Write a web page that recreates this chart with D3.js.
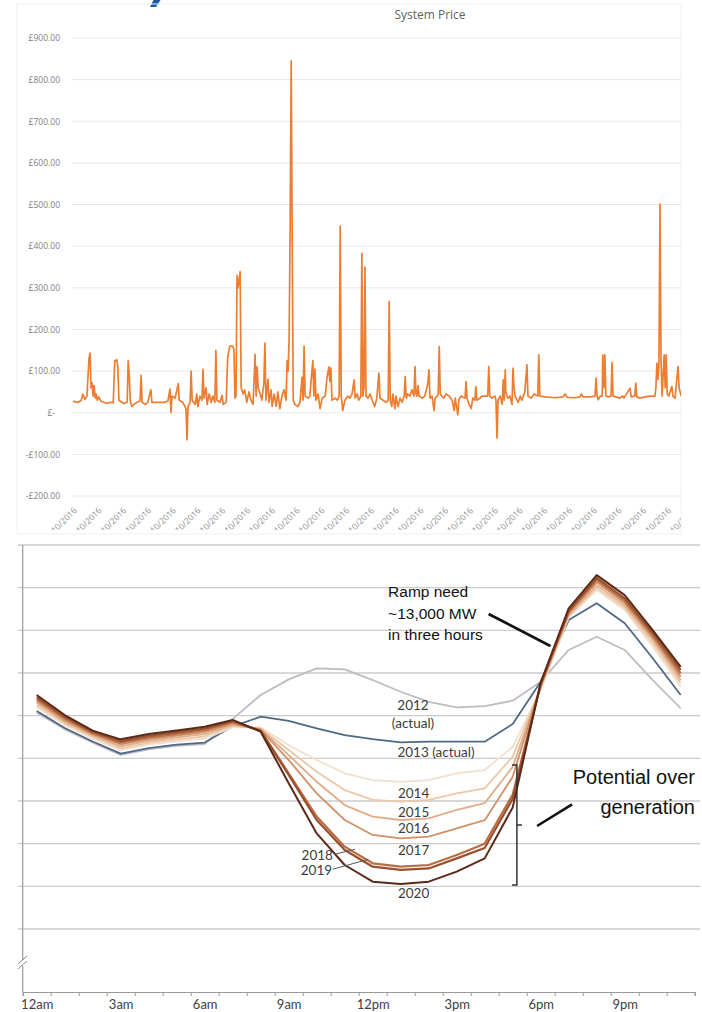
<!DOCTYPE html>
<html>
<head>
<meta charset="utf-8">
<script src="https://cdn.jsdelivr.net/npm/d3@7"></script>
<style>
	body{ margin:0; background:#ffffff; }
	svg{ display:block; }
</style>
</head>
<body>
<div id="chart"></div>
<script>
// ---- top chart: system price, half-hourly settlement periods from the first date ----
var pricePeriod = [0,4,10,16,19,23,27,31,33,35,37,39,41,43,45,47,50,54,60,66,72,78,81,85,87,89,95,99,105,107,109,111,114,118,124,130,132,134,140,145,
	151,153,161,169,178,184,188,190,192,198,204,206,213,219,221,223,227,229,231,237,240,242,246,250,252,254,258,260,264,268,271,275,277,279,285,289,291,297,
	300,304,310,312,314,316,318,320,324,326,330,333,337,341,345,349,353,355,357,359,363,366,370,372,374,378,380,384,386,390,394,397,401,405,409,413,415,417,419,421,423,425,427,430,436,440,444,446,448,450,456,459,465,467,469,471,475,479,483,489,492,496,498,
	500,502,508,512,516,518,520,523,527,533,537,541,545,547,551,554,558,560,562,564,566,568,572,576,580,585,589,593,595,
	601,607,611,613,615,618,620,624,626,630,634,638,642,644,646,649,653,657,661,663,665,667,669,671,677,682,688,690,692,696,
	700,702,706,708,710,712,715,719,723,729,735,739,741,746,748,752,760,762,764,768,772,775,779,781,783,789,793,
	804,806,808,812,818,820,822,824,828,832,834,836,838,839,843,847,851,853,855,857,863,867,870,876,880,882,888,894,
	901,903,905,915,934,950,954,958,973,983,985,989,
	1002,1012,1014,1016,1018,1022,1026,1027,1029,1031,1033,1037,1043,1045,1047,1053,1060,1066,1068,1080,1082,1089,1091,1093,1099,
	1109,1119,1128,1130,1132,1134,1136,1138,1140,1142,1146,1148,1150,1152,1155,1161,1163,1167,1173,1175,1179];
var priceValue = [28,26,25,30,45,32,40,130,143,60,72,40,65,35,45,30,38,28,25,22,25,24,125,127,110,30,25,22,25,125,90,28,15,20,25,28,90,25,20,25,
	55,25,25,25,25,28,57,0,40,35,70,30,25,10,-65,15,25,100,30,20,45,15,40,30,104,35,60,20,45,25,40,25,150,30,25,42,20,25,
	135,160,160,150,35,40,330,300,339,60,45,55,25,50,30,20,140,40,110,60,45,30,70,167,30,80,25,55,15,45,15,50,10,40,55,30,125,100,180,450,845,400,30,20,15,25,85,30,160,40,35,40,125,40,105,30,45,10,35,40,80,110,75,
	108,30,35,30,40,448,40,5,30,40,35,45,79,35,45,30,40,383,40,60,350,40,35,45,30,15,35,95,35,
	30,25,30,267,30,15,45,10,40,15,35,25,40,87,35,45,40,55,40,111,45,40,65,40,35,40,70,103,35,40,
	5,35,40,45,159,45,40,35,45,40,30,5,35,-5,30,40,35,75,35,20,10,35,30,63,30,35,40,
	40,111,40,35,40,30,-61,30,40,20,79,30,103,50,35,40,20,107,60,40,25,40,30,50,115,40,35,45,
	40,139,40,38,36,38,45,37,36,38,45,38,
	38,40,83,40,31,40,40,139,60,139,40,38,40,121,40,38,35,40,35,59,38,40,71,38,35,
	38,40,40,60,119,80,120,501,120,40,139,60,139,45,40,63,40,35,111,60,40];
var priceTicks = [900,800,700,600,500,400,300,200,100,0,-100,-200];
var dateLabels = ["01/10/2016","02/10/2016","03/10/2016","04/10/2016","05/10/2016","06/10/2016","07/10/2016","08/10/2016","09/10/2016",
	"10/10/2016","11/10/2016","12/10/2016","13/10/2016","14/10/2016","15/10/2016","16/10/2016","17/10/2016","18/10/2016",
	"19/10/2016","20/10/2016","21/10/2016","22/10/2016","23/10/2016","24/10/2016","25/10/2016","26/10/2016"];

// ---- bottom chart: net load by hour (MW) ----
var hourLabels = ["12am","3am","6am","9am","12pm","3pm","6pm","9pm"];
var hourLabelAt = [0,3,6,9,12,15,18,21];
var loadTicks = [10000,12000,14000,16000,18000,20000,22000,24000,26000,28000];
var years = ["2012","2013","2014","2015","2016","2017","2018","2019","2020"];
var load2012 = [20150,19360,18730,18160,18420,18580,18670,19850,20970,21700,22220,22170,21670,21120,20650,20390,20450,20700,21590,23080,23700,23080,21670,20340];
var load2013 = [20220,19420,18790,18220,18480,18640,18740,19500,19950,19760,19400,19090,18900,18750,18780,18780,18780,19610,21590,24480,25270,24330,22690,20970];
var load2014 = [20400,19560,18920,18380,18640,18800,18930,19450,19450,18620,17920,17300,16980,16900,16980,17300,17450,18540,21200,24610,25890,24950,23230,21360];
var load2015 = [20500,19640,19000,18470,18730,18890,19030,19520,19400,18390,17370,16510,16050,15970,16050,16360,16590,18080,21300,24670,26000,25060,23390,21520];
var load2016 = [20600,19720,19070,18560,18820,18980,19130,19580,19370,18150,16900,15810,15270,15110,15190,15580,15900,17600,21350,24730,26120,25170,23550,21670];
var load2017 = [20690,19800,19130,18650,18900,19070,19230,19640,19340,17920,16360,15110,14410,14250,14330,14720,15100,17140,21400,24800,26250,25280,23670,21830];
var load2018 = [20780,19880,19190,18730,18980,19150,19320,19700,19300,17300,15270,13860,13080,12920,13000,13470,14000,16300,21450,24870,26360,25390,23780,21980];
var load2019 = [20870,19950,19250,18810,19060,19230,19400,19750,19280,17220,15110,13700,12920,12770,12840,13310,13800,16100,21500,24920,26460,25500,23890,22140];
var load2020 = [20970,20030,19300,18890,19140,19300,19480,19800,19250,16830,14480,13000,12220,12110,12220,12690,13310,15700,21550,25030,26590,25650,24010,22290];

// line colours, one per year
var yearColor = ["#bdbcc4","#4f6885","#f3dfcd","#ecc7a8","#e0ad88","#d09068","#b86e45","#98502e","#5a2917"];
var yearWidth = [1.8,1.8,1.8,1.8,1.8,1.8,2.2,2.2,2];

var svg = d3.select("#chart").append("svg").attr("width",702).attr("height",1012);

var defs = svg.append("defs");
defs.append("clipPath").attr("id","clipPlot").append("rect").attr("x",60).attr("y",0).attr("width",621).attr("height",531);
defs.append("clipPath").attr("id","clipDates").append("rect").attr("x",17).attr("y",490).attr("width",664).attr("height",40);

// ================= top chart =================
var xP = d3.scaleLinear().domain([0,48*25]).range([73,692]);
var yP = d3.scaleLinear().domain([-200,900]).range([496,38]);

var tg = svg.append("g");

// tail of the cropped page heading above the chart
var mark = d3.path();
mark.moveTo(153.5,0);
mark.lineTo(160.5,0);
mark.lineTo(156,7);
mark.lineTo(150,7);
mark.closePath();
tg.append("path").attr("d",mark.toString()).attr("fill","#1f5aa6");

tg.append("rect")
	.attr("x",17).attr("y",4).attr("width",664).attr("height",530)
	.attr("fill","none").attr("stroke","#f0f0f0");

tg.append("text")
	.attr("x",430).attr("y",19)
	.attr("text-anchor","middle")
	.attr("fill","#5f5f5f")
	.style("font","12px 'Open Sans', sans-serif")
	.text("System Price");

tg.append("g").selectAll("line")
	.data(priceTicks)
	.enter()
	.append("line")
	.attr("x1",72).attr("x2",681)
	.attr("y1",function(d){ return yP(d); })
	.attr("y2",function(d){ return yP(d); })
	.attr("stroke","#e8e8e8");

var fmtPrice = function(d){
	if(d == 0){ return "£-"; }
	return (d < 0 ? "-" : "") + "£" + d3.format(".2f")(Math.abs(d));
};

var gyP = tg.append("g")
	.attr("transform","translate(62,0)")
	.call(d3.axisLeft(yP).tickValues(priceTicks).tickSize(0).tickPadding(2).tickFormat(fmtPrice));
gyP.select(".domain").remove();
gyP.selectAll("text")
	.attr("fill","#808080")
	.attr("dx",function(d){ return d == 0 ? -5 : 0; })
	.style("font","8.5px 'Open Sans', sans-serif");

var priceLine = d3.line()
	.x(function(d,i){ return xP(pricePeriod[i]); })
	.y(function(d){ return yP(d); });

tg.append("path")
	.datum(priceValue)
	.attr("clip-path","url(#clipPlot)")
	.attr("d",priceLine)
	.attr("fill","none")
	.attr("stroke","#ed7d31")
	.attr("stroke-width",1.7)
	.attr("stroke-linejoin","round");

var gxP = tg.append("g").attr("clip-path","url(#clipDates)")
	.append("g")
	.attr("transform","translate(0,506)")
	.call(d3.axisBottom(xP).tickValues(d3.range(dateLabels.length).map(function(i){ return i*48; })).tickSize(0)
		.tickFormat(function(d,i){ return dateLabels[i]; }));
gxP.select(".domain").remove();
gxP.selectAll("text")
	.attr("x",0).attr("y",0).attr("dy",0)
	.attr("text-anchor","end")
	.attr("transform","translate(4,5) rotate(-45)")
	.attr("fill","#8c8c8c")
	.style("font","8.5px 'Open Sans', sans-serif");

// ================= bottom chart =================
var xH = d3.scaleLinear().domain([0,24]).range([22.7,694.7]);
var yL = d3.scaleLinear().domain([10000,28000]).range([929,545]);
var axisY = 992;

var bg = svg.append("g");

bg.append("g").selectAll("line")
	.data(loadTicks)
	.enter()
	.append("line")
	.attr("x1",18).attr("x2",700)
	.attr("y1",function(d){ return yL(d); })
	.attr("y2",function(d){ return yL(d); })
	.attr("stroke","#cbcbcb")
	.attr("stroke-width",1.3);

bg.append("line")
	.attr("x1",xH(0)).attr("x2",xH(0))
	.attr("y1",yL(28000)).attr("y2",axisY)
	.attr("stroke","#9a9a9a").attr("stroke-width",1.2);

// axis break
bg.append("rect").attr("x",19).attr("y",960).attr("width",8).attr("height",6).attr("fill","#ffffff");
[0,5].forEach(function(o){
	bg.append("line")
		.attr("x1",18).attr("y1",966 + o - 2).attr("x2",27).attr("y2",958 + o - 2)
		.attr("stroke","#8a8a8a").attr("stroke-width",1);
});

var gxH = bg.append("g")
	.attr("transform","translate(0," + axisY + ")")
	.call(d3.axisBottom(xH).tickValues(d3.range(0,25)).tickSize(4).tickFormat(""));
gxH.select(".domain").attr("stroke","#9a9a9a").attr("stroke-width",1.2);
gxH.selectAll(".tick line").attr("stroke","#9a9a9a");

var gxL = bg.append("g")
	.attr("transform","translate(0," + axisY + ")")
	.call(d3.axisBottom(xH).tickValues(hourLabelAt.map(function(h){ return h + 0.5; })).tickSize(0).tickPadding(8)
		.tickFormat(function(d,i){ return hourLabels[i]; }));
gxL.select(".domain").remove();
gxL.selectAll("text")
	.attr("fill","#404040")
	.style("font","13px Lato, sans-serif");

var loads = [load2012,load2013,load2014,load2015,load2016,load2017,load2018,load2019,load2020];
var loadLine = d3.line()
	.x(function(d,i){ return xH(i + 0.5); })
	.y(function(d){ return yL(d); });

bg.append("g").selectAll("path")
	.data(loads)
	.enter()
	.append("path")
	.attr("d",loadLine)
	.attr("fill","none")
	.attr("stroke",function(d,i){ return yearColor[i]; })
	.attr("stroke-width",function(d,i){ return yearWidth[i]; })
	.attr("stroke-linejoin","round");

// year labels, placed in hour / MW units
var yearLabels = [
	{t:"2012", h:13.94, v:20266, a:"middle"},
	{t:"(actual)", h:13.94, v:19422, a:"middle"},
	{t:"2013 (actual)", h:14.76, v:18063, a:"middle"},
	{t:"2014", h:13.96, v:16141, a:"middle"},
	{t:"2015", h:13.96, v:15273, a:"middle"},
	{t:"2016", h:13.96, v:14500, a:"middle"},
	{t:"2017", h:13.96, v:13469, a:"middle"},
	{t:"2020", h:13.96, v:11453, a:"middle"},
	{t:"2018", h:11.08, v:13234, a:"end"},
	{t:"2019", h:11.05, v:12531, a:"end"}
];
bg.append("g").selectAll("text")
	.data(yearLabels)
	.enter()
	.append("text")
	.attr("x",function(d){ return xH(d.h); })
	.attr("y",function(d){ return yL(d.v); })
	.attr("text-anchor",function(d){ return d.a; })
	.attr("fill","#3c3c3c")
	.style("font","13.5px Lato, sans-serif")
	.text(function(d){ return d.t; });

var leaders = [
	[11.13,13502,11.87,13736],
	[11.07,12798,12.34,13266]
];
bg.append("g").selectAll("line")
	.data(leaders)
	.enter()
	.append("line")
	.attr("x1",function(d){ return xH(d[0]); }).attr("y1",function(d){ return yL(d[1]); })
	.attr("x2",function(d){ return xH(d[2]); }).attr("y2",function(d){ return yL(d[3]); })
	.attr("stroke","#555555").attr("stroke-width",1);

// ramp annotation
var rampText = ["Ramp need","~13,000 MW","in three hours"];
var rampV = [25563,24531,23547];
bg.append("g").selectAll("text")
	.data(rampText)
	.enter()
	.append("text")
	.attr("x",xH(13.05))
	.attr("y",function(d,i){ return yL(rampV[i]); })
	.attr("fill","#111111")
	.style("font","15.5px 'Liberation Sans', Arial, sans-serif")
	.text(function(d){ return d; });

bg.append("line")
	.attr("x1",xH(16.64)).attr("y1",yL(24766))
	.attr("x2",xH(18.845)).attr("y2",yL(23266))
	.attr("stroke","#111111").attr("stroke-width",2.6);

// over generation annotation
var overText = ["Potential over","generation"];
var overV = [16797,15391];
bg.append("g").selectAll("text")
	.data(overText)
	.enter()
	.append("text")
	.attr("x",xH(24.01))
	.attr("y",function(d,i){ return yL(overV[i]); })
	.attr("text-anchor","end")
	.attr("fill","#111111")
	.style("font","20px 'Liberation Sans', Arial, sans-serif")
	.text(function(d){ return d; });

bg.append("line")
	.attr("x1",xH(18.37)).attr("y1",yL(14828))
	.attr("x2",xH(19.62)).attr("y2",yL(15845))
	.attr("stroke","#111111").attr("stroke-width",2.6);

var bracket = d3.path();
bracket.moveTo(xH(17.475),yL(17688));
bracket.lineTo(xH(17.65),yL(17688));
bracket.lineTo(xH(17.65),yL(12063));
bracket.lineTo(xH(17.475),yL(12063));
bracket.moveTo(xH(17.65),yL(14875));
bracket.lineTo(xH(17.83),yL(14875));
bg.append("path")
	.attr("d",bracket.toString())
	.attr("fill","none")
	.attr("stroke","#333333")
	.attr("stroke-width",1.5);
</script>
</body>
</html>
